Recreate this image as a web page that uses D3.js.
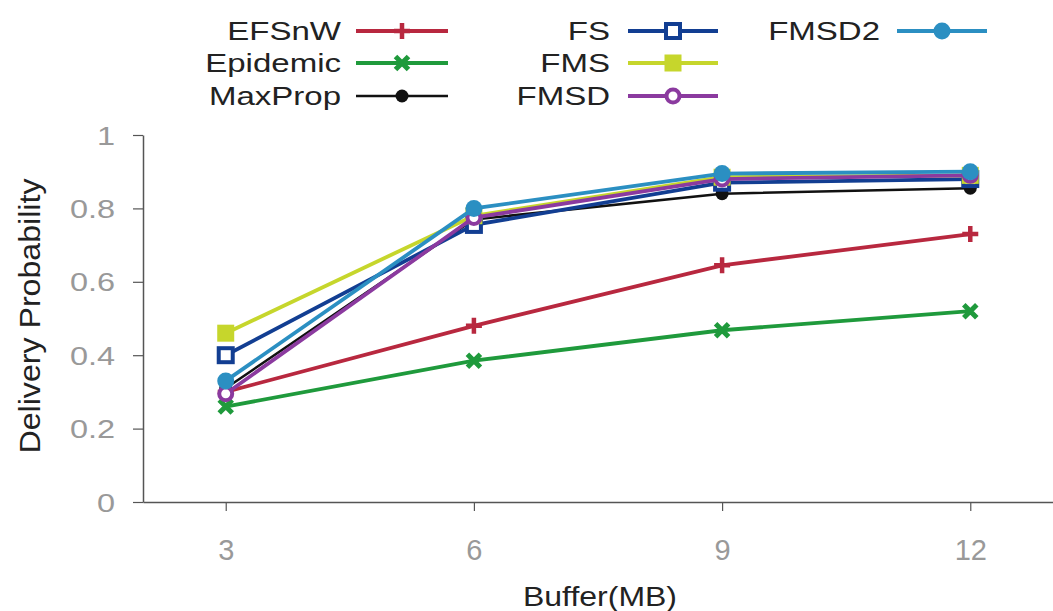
<!DOCTYPE html>
<html>
<head>
<meta charset="utf-8">
<script src="https://cdn.jsdelivr.net/npm/d3@7/dist/d3.min.js"></script>
<style>
  body { margin: 0; background: #fff; }
  svg { display: block; font-family: "Liberation Sans", Arial, sans-serif; }
</style>
</head>
<body>
<svg id="chart" width="1053" height="611"></svg>
<script>
// ---- data ----
const buffers = [3, 6, 9, 12];
const seriesNames = ["EFSnW", "Epidemic", "MaxProp", "FS", "FMS", "FMSD", "FMSD2"];
const efsnw    = [0.30, 0.48, 0.645, 0.73];
const epidemic = [0.26, 0.385, 0.468, 0.52];
const maxprop  = [0.31, 0.77, 0.84, 0.855];
const fs       = [0.40, 0.755, 0.87, 0.88];
const fms      = [0.46, 0.78, 0.885, 0.89];
const fmsd     = [0.295, 0.775, 0.88, 0.89];
const fmsd2    = [0.33, 0.80, 0.895, 0.90];
const yTicks = [0, 0.2, 0.4, 0.6, 0.8, 1];
const yTickLabels = ["0", "0.2", "0.4", "0.6", "0.8", "1"];
const xTickLabels = ["3", "6", "9", "12"];
const xTitle = "Buffer(MB)";
const yTitle = "Delivery Probability";

const seriesValues = [efsnw, epidemic, maxprop, fs, fms, fmsd, fmsd2];
const colors = ["#b8283f", "#1f9a3c", "#111111", "#123e92", "#c6d62c", "#8b3a9f", "#2b8fc2"];
const markers = ["plus", "cross", "dot", "square-open", "square", "circle-open", "circle"];

const svg = d3.select("#chart");
const x = d3.scaleLinear().domain([2, 13]).range([143, 1053]);
const y = d3.scaleLinear().domain([0, 1]).range([502, 135]);

// axes
const axisColor = "#555";
const gx = svg.append("g").attr("transform", `translate(0,${y(0)})`)
  .call(d3.axisBottom(x).tickValues(buffers).tickFormat((d, i) => xTickLabels[i]).tickSize(9).tickSizeOuter(0));
gx.select(".domain").attr("stroke", axisColor).attr("stroke-width", 1.5);
gx.selectAll(".tick line").attr("stroke", axisColor).attr("stroke-width", 1.2);
gx.selectAll(".tick text").attr("fill", "#999").attr("font-size", 29).attr("y", 58).attr("dy", 0)
  .attr("font-family", "Liberation Sans, Arial, sans-serif");

const gy = svg.append("g").attr("transform", `translate(${x(2)},0)`)
  .call(d3.axisLeft(y).tickValues(yTicks).tickFormat((d, i) => yTickLabels[i]).tickSize(10).tickSizeOuter(0));
gy.select(".domain").attr("stroke", axisColor).attr("stroke-width", 1.5);
gy.selectAll(".tick line").attr("stroke", axisColor).attr("stroke-width", 1.2);
gy.selectAll(".tick text").attr("fill", "#999").attr("font-size", 25)
  .attr("x", -21.5).attr("dy", "0.36em").attr("transform", "scale(1.3,1)")
  .attr("font-family", "Liberation Sans, Arial, sans-serif");

// titles
svg.append("text").attr("transform", "translate(40,316) rotate(-90)")
  .attr("text-anchor", "middle").attr("font-size", 29).attr("fill", "#222")
  .attr("textLength", 275).attr("lengthAdjust", "spacingAndGlyphs").text(yTitle);
svg.append("text").attr("x", 600).attr("y", 606)
  .attr("text-anchor", "middle").attr("font-size", 28).attr("fill", "#222")
  .attr("textLength", 154).attr("lengthAdjust", "spacingAndGlyphs").text(xTitle);

// marker drawing
function drawMarker(g, type, color, cx, cy) {
  const m = g.append("g").attr("transform", `translate(${cx},${cy})`);
  if (type === "plus") {
    m.append("path").attr("d", "M-8,0H8M0,-8V8").attr("stroke", color).attr("stroke-width", 4.5);
  } else if (type === "cross") {
    m.append("path").attr("d", "M-6.5,-6.5L6.5,6.5M-6.5,6.5L6.5,-6.5").attr("stroke", color).attr("stroke-width", 5);
  } else if (type === "dot") {
    m.append("circle").attr("r", 6.5).attr("fill", color);
  } else if (type === "square-open") {
    m.append("rect").attr("x", -7).attr("y", -7).attr("width", 14).attr("height", 14)
      .attr("fill", "#fff").attr("stroke", color).attr("stroke-width", 4);
  } else if (type === "square") {
    m.append("rect").attr("x", -8.5).attr("y", -8.5).attr("width", 17).attr("height", 17).attr("fill", color);
  } else if (type === "circle-open") {
    m.append("circle").attr("r", 6.5).attr("fill", "#fff").attr("stroke", color).attr("stroke-width", 4);
  } else if (type === "circle") {
    m.append("circle").attr("r", 8.5).attr("fill", color);
  }
}

const line = d3.line().x((d, i) => x(buffers[i])).y(d => y(d));
const plot = svg.append("g");
seriesValues.forEach((vals, s) => {
  const g = plot.append("g");
  g.append("path").datum(vals).attr("d", line).attr("fill", "none")
    .attr("stroke", colors[s]).attr("stroke-width", s === 2 ? 2.5 : 3.8);
  vals.forEach((v, i) => drawMarker(g, markers[s], colors[s], x(buffers[i]), y(v)));
});

// legend
const legendCols = [{tx: 341, lx0: 356, lx1: 448}, {tx: 610, lx0: 628, lx1: 718}, {tx: 880, lx0: 897, lx1: 987}];
const legendRows = [31, 63, 96];
const legendPos = [[0,0],[0,1],[0,2],[1,0],[1,1],[1,2],[2,0]];
const legend = svg.append("g");
seriesNames.forEach((name, s) => {
  const c = legendCols[legendPos[s][0]], ry = legendRows[legendPos[s][1]];
  legend.append("text").attr("transform", `translate(${c.tx},${ry + 9}) scale(1.27,1)`)
    .attr("text-anchor", "end").attr("font-size", 26).attr("fill", "#222").text(name);
  legend.append("line").attr("x1", c.lx0).attr("x2", c.lx1).attr("y1", ry).attr("y2", ry)
    .attr("stroke", colors[s]).attr("stroke-width", s === 2 ? 2.5 : 3.8);
  drawMarker(legend, markers[s], colors[s], (c.lx0 + c.lx1) / 2, ry);
});
</script>
</body>
</html>
